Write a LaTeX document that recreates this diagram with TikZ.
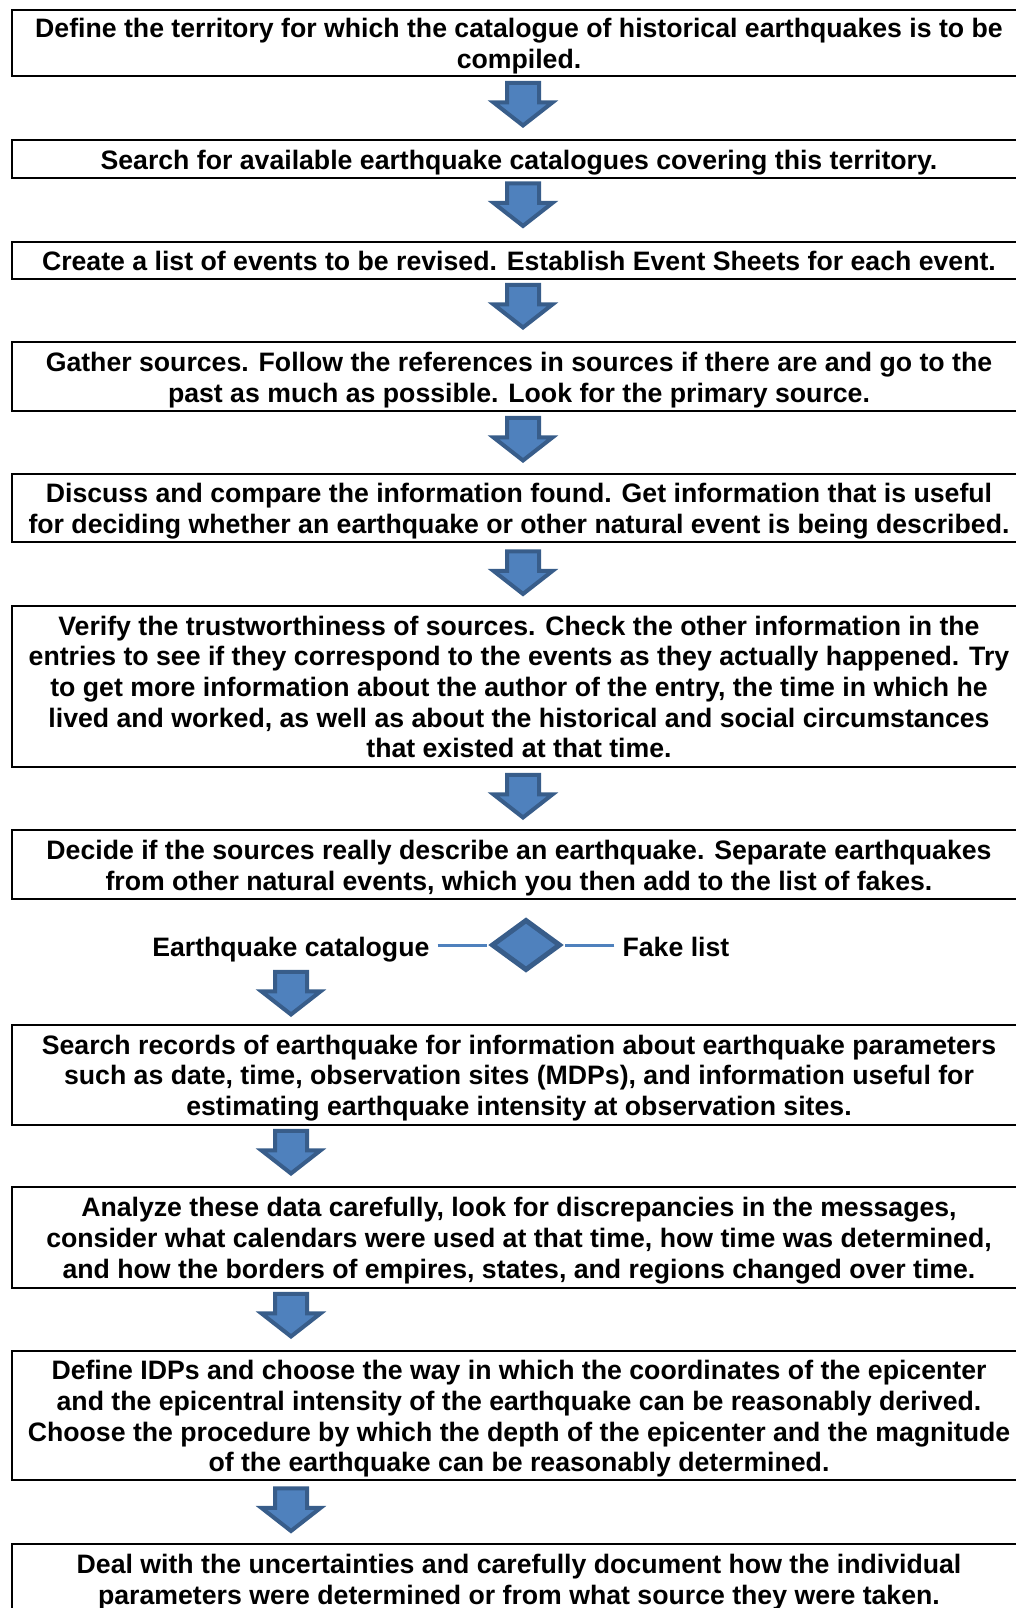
\documentclass[tikz,border=0pt]{standalone}
\usepackage{fontspec}
\setmainfont{Liberation Sans}
\usetikzlibrary{shapes.arrows, shapes.geometric}
\definecolor{stepblue}{HTML}{4F81BD}
\definecolor{stepedge}{HTML}{385D8A}
\begin{document}
\begin{tikzpicture}[
        x=0.75pt, y=-0.75pt,
        font=\fontsize{20}{23}\selectfont\bfseries,
        stage/.style={rectangle, draw, line width=1.5pt, minimum width=760.5pt, inner sep=0pt, align=center, text depth=4.3pt},
        down/.style={single arrow, shape border rotate=270, draw=stepedge, fill=stepblue, line width=3pt, inner xsep=10.5pt, inner ysep=0pt, minimum height=31.9pt, minimum width=41.25pt, single arrow head extend=10.1pt, single arrow tip angle=104, anchor=tip},
        choice/.style={diamond, draw=stepedge, fill=stepblue, line width=3.75pt, minimum width=51.75pt, minimum height=38.25pt, inner sep=0pt},
        outcome/.style={inner sep=7pt, text height=21.9pt, text depth=4.3pt},
        branch/.style={draw=stepblue, line width=2.25pt, shorten <=-1pt, shorten >=1.5pt}
    ]
        \clip (0,0) rectangle (1016,1608);

        % Stages, top to bottom
        \node[stage, text height=42.5pt, minimum height=49.2pt] (territory) at (519, 43) {Define the territory for which the catalogue of historical earthquakes is to be\\compiled.};

        \node[stage, text height=19.5pt, minimum height=28.5pt] (search) at (519, 159.4) {Search for available earthquake catalogues covering this territory.};

        \node[stage, text height=19.5pt, minimum height=27.75pt] (events) at (519, 260.5) {Create a list of events to be revised. Establish Event Sheets for each event.};

        \node[stage, text height=42.5pt, minimum height=51.5pt] (sources) at (519, 376.8) {Gather sources. Follow the references in sources if there are and go to the\\past as much as possible. Look for the primary source.};

        \node[stage, text height=42.5pt, minimum height=51.5pt] (compare) at (519, 508) {Discuss and compare the information found. Get information that is useful\\for deciding whether an earthquake or other natural event is being described.};

        \node[stage, text height=111.5pt, minimum height=120.75pt] (verify) at (519, 686.4) {Verify the trustworthiness of sources. Check the other information in the\\entries to see if they correspond to the events as they actually happened. Try\\to get more information about the author of the entry, the time in which he\\lived and worked, as well as about the historical and social circumstances\\that existed at that time.};

        \node[stage, text height=42.5pt, minimum height=51.5pt] (decide) at (519, 864.8) {Decide if the sources really describe an earthquake. Separate earthquakes\\from other natural events, which you then add to the list of fakes.};

        \node[stage, text height=65.5pt, minimum height=74.7pt] (records) at (519, 1074.8) {Search records of earthquake for information about earthquake parameters\\such as date, time, observation sites (MDPs), and information useful for\\estimating earthquake intensity at observation sites.};

        \node[stage, text height=65.5pt, minimum height=75.45pt] (analyze) at (519, 1237.3) {Analyze these data carefully, look for discrepancies in the messages,\\consider what calendars were used at that time, how time was determined,\\and how the borders of empires, states, and regions changed over time.};

        \node[stage, text height=88.5pt, minimum height=97pt] (idps) at (519, 1415.7) {Define IDPs and choose the way in which the coordinates of the epicenter\\and the epicentral intensity of the earthquake can be reasonably derived.\\Choose the procedure by which the depth of the epicenter and the magnitude\\of the earthquake can be reasonably determined.};

        \node[stage, text height=42.5pt, minimum height=52.2pt] (document) at (519, 1578.8) {Deal with the uncertainties and carefully document how the individual\\parameters were determined or from what source they were taken.};

        % Block arrows between stages
        \node[down] (a1) at (523, 128) {};
        \node[down] (a2) at (523, 228.5) {};
        \node[down] (a3) at (523, 330) {};
        \node[down] (a4) at (523, 463) {};
        \node[down] (a5) at (523, 596.5) {};
        \node[down] (a6) at (523, 820) {};
        \node[down] (a7) at (291, 1017) {};
        \node[down] (a8) at (291, 1176) {};
        \node[down] (a9) at (291, 1339) {};
        \node[down] (a10) at (291, 1533.5) {};

        % Decision between catalogue and fakes
        \node[outcome, anchor=east] (catalogue) at (439, 945) {Earthquake catalogue};
        \node[outcome, anchor=west] (fakes) at (613, 945) {Fake list};
        \node[choice] (sort) at (526, 945) {};
        \draw[branch] (catalogue) -- (sort);
        \draw[branch] (fakes) -- (sort);

    \end{tikzpicture}
\end{document}
